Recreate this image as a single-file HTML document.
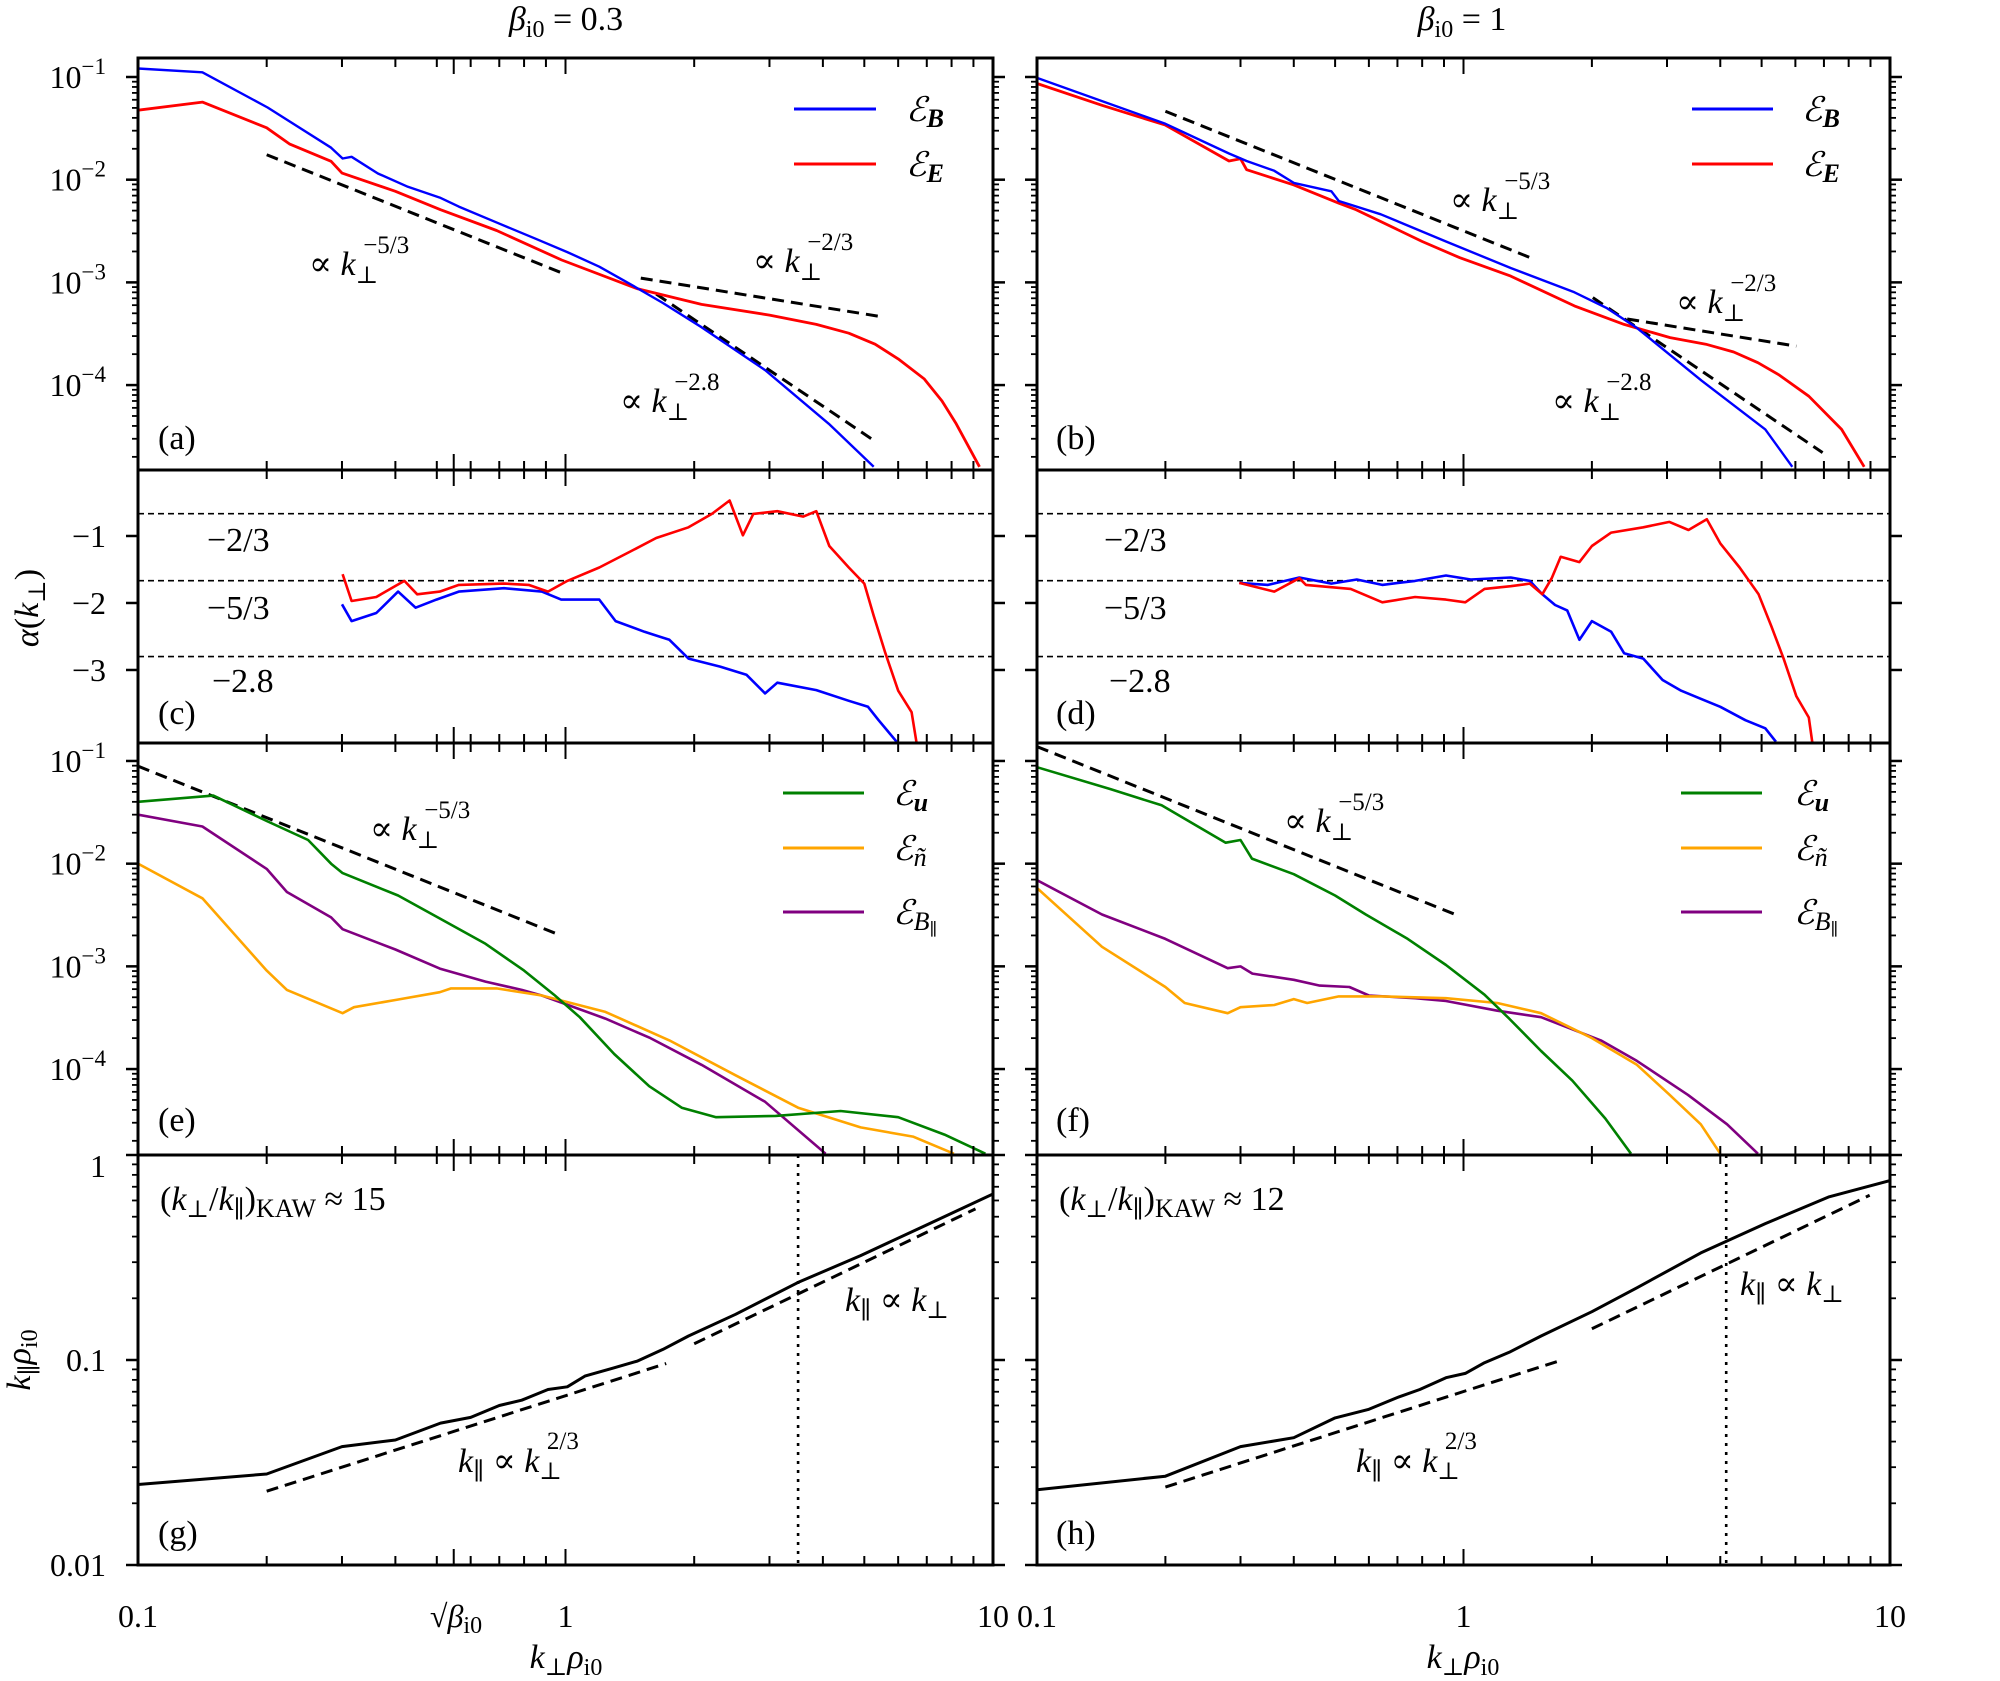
<!DOCTYPE html>
<html><head><meta charset="utf-8">
<style>
html,body{margin:0;padding:0;background:#fff;}
svg{display:block;font-family:"Liberation Serif","DejaVu Serif",serif;}
.t{font-size:32px;fill:#000;}
.an{font-size:34px;fill:#000;}
.it{font-style:italic;}
</style></head>
<body>
<svg id="fig" xmlns="http://www.w3.org/2000/svg" width="2000" height="1681" viewBox="0 0 2000 1681">
<rect x="0" y="0" width="2000" height="1681" fill="#fff"/>
<text class="an" x="566" y="30" text-anchor="middle" font-size="36"><tspan class="it">β</tspan><tspan font-size="24" dy="7">i0</tspan><tspan dy="-7"> = 0.3</tspan></text>
<text class="an" x="1462" y="30" text-anchor="middle" font-size="36"><tspan class="it">β</tspan><tspan font-size="24" dy="7">i0</tspan><tspan dy="-7"> = 1</tspan></text>
<g id="layer"></g>
<g class="an">
<text x="309" y="275">∝ <tspan class="it">k</tspan><tspan font-size="24" dy="8">⊥</tspan><tspan font-size="25" dx="-15" dy="-30">−5/3</tspan></text>
<text x="753" y="272">∝ <tspan class="it">k</tspan><tspan font-size="24" dy="8">⊥</tspan><tspan font-size="25" dx="-15" dy="-30">−2/3</tspan></text>
<text x="620" y="412">∝ <tspan class="it">k</tspan><tspan font-size="24" dy="8">⊥</tspan><tspan font-size="25" dx="-15" dy="-30">−2.8</tspan></text>
<text x="1450" y="211">∝ <tspan class="it">k</tspan><tspan font-size="24" dy="8">⊥</tspan><tspan font-size="25" dx="-15" dy="-30">−5/3</tspan></text>
<text x="1676" y="313">∝ <tspan class="it">k</tspan><tspan font-size="24" dy="8">⊥</tspan><tspan font-size="25" dx="-15" dy="-30">−2/3</tspan></text>
<text x="1552" y="412">∝ <tspan class="it">k</tspan><tspan font-size="24" dy="8">⊥</tspan><tspan font-size="25" dx="-15" dy="-30">−2.8</tspan></text>
<text x="370" y="840">∝ <tspan class="it">k</tspan><tspan font-size="24" dy="8">⊥</tspan><tspan font-size="25" dx="-15" dy="-30">−5/3</tspan></text>
<text x="1284" y="832">∝ <tspan class="it">k</tspan><tspan font-size="24" dy="8">⊥</tspan><tspan font-size="25" dx="-15" dy="-30">−5/3</tspan></text>
<text x="207" y="551">−2/3</text><text x="207" y="619">−5/3</text><text x="212" y="692">−2.8</text>
<text x="1104" y="551">−2/3</text><text x="1104" y="619">−5/3</text><text x="1109" y="692">−2.8</text>
<text x="158" y="449">(a)</text><text x="1056" y="449">(b)</text>
<text x="158" y="724">(c)</text><text x="1056" y="724">(d)</text>
<text x="158" y="1131">(e)</text><text x="1056" y="1131">(f)</text>
<text x="158" y="1544">(g)</text><text x="1056" y="1544">(h)</text>
<text x="160" y="1210">(<tspan class="it">k</tspan><tspan font-size="24" dy="7">⊥</tspan><tspan dy="-7">/</tspan><tspan class="it">k</tspan><tspan font-size="24" dy="7">∥</tspan><tspan dy="-7">)</tspan><tspan font-size="26" dy="7">KAW</tspan><tspan dy="-7"> ≈ 15</tspan></text>
<text x="1059" y="1210">(<tspan class="it">k</tspan><tspan font-size="24" dy="7">⊥</tspan><tspan dy="-7">/</tspan><tspan class="it">k</tspan><tspan font-size="24" dy="7">∥</tspan><tspan dy="-7">)</tspan><tspan font-size="26" dy="7">KAW</tspan><tspan dy="-7"> ≈ 12</tspan></text>
<text x="845" y="1311"><tspan class="it">k</tspan><tspan font-size="24" dy="7">∥</tspan><tspan dy="-7"> ∝ </tspan><tspan class="it">k</tspan><tspan font-size="24" dy="7">⊥</tspan></text>
<text x="1740" y="1295"><tspan class="it">k</tspan><tspan font-size="24" dy="7">∥</tspan><tspan dy="-7"> ∝ </tspan><tspan class="it">k</tspan><tspan font-size="24" dy="7">⊥</tspan></text>
<text x="458" y="1472"><tspan class="it">k</tspan><tspan font-size="24" dy="7">∥</tspan><tspan dy="-7"> ∝ </tspan><tspan class="it">k</tspan><tspan font-size="24" dy="7">⊥</tspan><tspan font-size="25" dx="-15" dy="-30">2/3</tspan></text>
<text x="1356" y="1472"><tspan class="it">k</tspan><tspan font-size="24" dy="7">∥</tspan><tspan dy="-7"> ∝ </tspan><tspan class="it">k</tspan><tspan font-size="24" dy="7">⊥</tspan><tspan font-size="25" dx="-15" dy="-30">2/3</tspan></text>
</g>
<g>
<line x1="794" y1="109" x2="876" y2="109" stroke="#00f" stroke-width="3"/>
<line x1="794" y1="164" x2="876" y2="164" stroke="#f00" stroke-width="3"/>
<text class="an it" x="906" y="121" font-size="38">ℰ<tspan font-size="26" font-weight="bold" dy="6">B</tspan></text>
<text class="an it" x="906" y="176" font-size="38">ℰ<tspan font-size="26" font-weight="bold" dy="6">E</tspan></text>
</g>
<g>
<line x1="1692" y1="109" x2="1773" y2="109" stroke="#00f" stroke-width="3"/>
<line x1="1692" y1="164" x2="1773" y2="164" stroke="#f00" stroke-width="3"/>
<text class="an it" x="1802" y="121" font-size="38">ℰ<tspan font-size="26" font-weight="bold" dy="6">B</tspan></text>
<text class="an it" x="1802" y="176" font-size="38">ℰ<tspan font-size="26" font-weight="bold" dy="6">E</tspan></text>
</g>
<g>
<line x1="783" y1="793" x2="864" y2="793" stroke="#008000" stroke-width="3"/>
<line x1="783" y1="848" x2="864" y2="848" stroke="#ffa500" stroke-width="3"/>
<line x1="783" y1="912" x2="864" y2="912" stroke="#800080" stroke-width="3"/>
<text class="an it" x="893" y="805" font-size="38">ℰ<tspan font-size="26" font-weight="bold" dy="6">u</tspan></text>
<text class="an it" x="893" y="860" font-size="38">ℰ<tspan font-size="26" dy="6">ñ</tspan></text>
<text class="an it" x="893" y="924" font-size="38">ℰ<tspan font-size="26" dy="6">B</tspan><tspan font-size="17" dy="5">∥</tspan></text>
</g>
<g>
<line x1="1681" y1="793" x2="1762" y2="793" stroke="#008000" stroke-width="3"/>
<line x1="1681" y1="848" x2="1762" y2="848" stroke="#ffa500" stroke-width="3"/>
<line x1="1681" y1="912" x2="1762" y2="912" stroke="#800080" stroke-width="3"/>
<text class="an it" x="1794" y="805" font-size="38">ℰ<tspan font-size="26" font-weight="bold" dy="6">u</tspan></text>
<text class="an it" x="1794" y="860" font-size="38">ℰ<tspan font-size="26" dy="6">ñ</tspan></text>
<text class="an it" x="1794" y="924" font-size="38">ℰ<tspan font-size="26" dy="6">B</tspan><tspan font-size="17" dy="5">∥</tspan></text>
</g>
<text class="an" transform="translate(38,608) rotate(-90)" text-anchor="middle" font-size="36"><tspan class="it">α</tspan>(<tspan class="it">k</tspan><tspan font-size="24" dy="7">⊥</tspan><tspan dy="-7">)</tspan></text>
<text class="an" transform="translate(30,1360) rotate(-90)" text-anchor="middle" font-size="36"><tspan class="it">k</tspan><tspan font-size="24" dy="7">∥</tspan><tspan class="it" dy="-7">ρ</tspan><tspan font-size="24" dy="7">i0</tspan></text>
<text class="an" x="566" y="1668" text-anchor="middle" font-size="36"><tspan class="it">k</tspan><tspan font-size="24" dy="7">⊥</tspan><tspan class="it" dy="-7">ρ</tspan><tspan font-size="24" dy="7">i0</tspan></text>
<text class="an" x="1463" y="1668" text-anchor="middle" font-size="36"><tspan class="it">k</tspan><tspan font-size="24" dy="7">⊥</tspan><tspan class="it" dy="-7">ρ</tspan><tspan font-size="24" dy="7">i0</tspan></text>
<text class="t" x="456" y="1627" text-anchor="middle">√<tspan class="it">β</tspan><tspan font-size="24" dy="6">i0</tspan></text>
</svg>
<script>
// ---------- data (k⊥ρi0, values) ----------
const aK_B=[0.1,0.1415,0.201,0.283,0.301,0.316,0.364,0.428,0.508,0.563,0.692,0.851,1.01,1.2,1.42,1.69,2.08,2.93,4.13,5.26];
const aV_B=[0.121,0.111,0.0505,0.0205,0.0161,0.0167,0.0115,0.00853,0.0067,0.00547,0.00381,0.00266,0.00197,0.00142,0.000957,0.00063,0.000366,0.00014,4.2e-5,1.6e-5];
const aK_E=[0.1,0.1415,0.2,0.226,0.283,0.3,0.4,0.51,0.69,0.98,1.47,2.08,3.0,3.86,4.6,5.3,6.0,6.9,7.6,8.2,9.3];
const aV_E=[0.0475,0.057,0.032,0.0223,0.0151,0.0116,0.0077,0.0051,0.0032,0.00165,8.7e-4,6.1e-4,4.8e-4,3.9e-4,3.2e-4,2.5e-4,1.8e-4,1.15e-4,7e-5,4.2e-5,1.6e-5];
const bK_B=[0.1,0.2,0.282,0.31,0.36,0.4,0.49,0.51,0.64,0.91,1.29,1.82,2.17,2.55,3.62,5.1,5.9];
const bV_B=[0.098,0.035,0.018,0.0152,0.0122,0.0093,0.0077,0.0062,0.0046,0.0025,0.00138,8e-4,5.6e-4,3.6e-4,1.1e-4,3.7e-5,1.6e-5];
const bK_E=[0.1,0.142,0.2,0.282,0.3,0.31,0.4,0.51,0.56,0.8,0.98,1.29,1.82,2.38,3.05,3.7,4.3,4.9,5.5,6.45,7.7,8.7];
const bV_E=[0.0865,0.053,0.034,0.0152,0.016,0.0125,0.0089,0.0059,0.0051,0.0025,0.00174,0.00115,5.9e-4,3.9e-4,2.9e-4,2.5e-4,2.1e-4,1.65e-4,1.25e-4,7.8e-5,3.7e-5,1.6e-5];
const cK_B=[0.3,0.316,0.361,0.406,0.446,0.499,0.563,0.718,0.88,0.977,1.2,1.31,1.53,1.75,1.94,2.3,2.65,2.93,3.13,3.86,4.6,5.1,5.4,5.95];
const cV_B=[-2.02,-2.27,-2.15,-1.83,-2.07,-1.95,-1.83,-1.78,-1.83,-1.95,-1.95,-2.27,-2.43,-2.55,-2.83,-2.95,-3.07,-3.35,-3.19,-3.3,-3.46,-3.55,-3.75,-4.07];
const cK_E=[0.301,0.316,0.361,0.399,0.42,0.45,0.508,0.563,0.718,0.82,0.91,1.01,1.2,1.42,1.63,1.94,2.2,2.42,2.6,2.75,3.13,3.6,3.86,4.14,4.6,5.0,5.26,5.6,6.0,6.45,6.63];
const cV_E=[-1.57,-1.97,-1.91,-1.75,-1.67,-1.87,-1.83,-1.73,-1.71,-1.73,-1.83,-1.67,-1.47,-1.23,-1.03,-0.87,-0.67,-0.47,-0.99,-0.67,-0.63,-0.71,-0.63,-1.15,-1.47,-1.71,-2.19,-2.75,-3.31,-3.63,-4.1];
const dK_B=[0.298,0.348,0.412,0.49,0.562,0.645,0.77,0.91,1.04,1.29,1.43,1.53,1.64,1.75,1.87,2.0,2.22,2.38,2.64,2.93,3.24,3.6,4.0,4.58,5.1,5.4];
const dV_B=[-1.7,-1.73,-1.62,-1.71,-1.65,-1.73,-1.67,-1.59,-1.65,-1.62,-1.67,-1.87,-2.03,-2.11,-2.55,-2.27,-2.43,-2.75,-2.83,-3.15,-3.31,-3.43,-3.55,-3.75,-3.87,-4.07];
const dK_E=[0.298,0.36,0.412,0.427,0.544,0.645,0.77,0.91,1.01,1.12,1.29,1.43,1.53,1.61,1.69,1.87,2.0,2.22,2.64,3.04,3.37,3.72,4.0,4.44,4.92,5.27,5.63,6.03,6.45,6.57];
const dV_E=[-1.7,-1.83,-1.63,-1.73,-1.79,-1.99,-1.91,-1.95,-1.99,-1.79,-1.75,-1.71,-1.87,-1.63,-1.31,-1.39,-1.15,-0.95,-0.87,-0.79,-0.91,-0.75,-1.11,-1.47,-1.87,-2.35,-2.83,-3.39,-3.71,-4.07];
const eK_U=[0.1,0.15,0.2,0.25,0.283,0.301,0.406,0.51,0.65,0.8,0.94,1.08,1.3,1.57,1.87,2.25,3.1,4.4,6.0,7.7,9.6];
const eV_U=[0.04,0.046,0.026,0.017,0.01,0.0081,0.0049,0.0029,0.00166,9.1e-4,5.3e-4,3.2e-4,1.4e-4,6.8e-5,4.2e-5,3.4e-5,3.5e-5,3.9e-5,3.4e-5,2.3e-5,1.5e-5];
const eK_N=[0.1,0.1415,0.2,0.223,0.301,0.32,0.4,0.508,0.54,0.69,0.88,1.24,1.75,2.5,3.5,4.9,6.5,8.1];
const eV_N=[0.01,0.0046,9.1e-4,5.9e-4,3.5e-4,4.0e-4,4.7e-4,5.6e-4,6.1e-4,6.1e-4,5.2e-4,3.6e-4,1.9e-4,8.7e-5,4.2e-5,2.7e-5,2.2e-5,1.5e-5];
const eK_P=[0.1,0.1415,0.2,0.223,0.283,0.301,0.4,0.508,0.65,0.79,0.88,1.24,1.58,2.08,2.93,4.06];
const eV_P=[0.03,0.023,0.0089,0.0053,0.003,0.0023,0.00146,9.5e-4,7.1e-4,5.9e-4,5.2e-4,3.1e-4,2.0e-4,1.1e-4,4.8e-5,1.5e-5];
const fK_U=[0.1,0.149,0.196,0.277,0.3,0.319,0.4,0.5,0.59,0.74,0.91,1.12,1.28,1.52,1.8,2.15,2.47];
const fV_U=[0.087,0.053,0.037,0.016,0.017,0.0112,0.0079,0.0049,0.0032,0.00185,0.00103,5.3e-4,3.1e-4,1.5e-4,7.7e-5,3.3e-5,1.5e-5];
const fK_N=[0.1,0.142,0.2,0.222,0.28,0.3,0.36,0.4,0.43,0.51,0.645,0.91,1.2,1.52,2.0,2.55,3.03,3.6,4.0];
const fV_N=[0.0058,0.00155,6.3e-4,4.4e-4,3.5e-4,4.0e-4,4.2e-4,4.8e-4,4.4e-4,5.1e-4,5.1e-4,4.9e-4,4.4e-4,3.5e-4,2.0e-4,1.1e-4,5.7e-5,2.9e-5,1.5e-5];
const fK_P=[0.1,0.142,0.2,0.28,0.3,0.32,0.4,0.46,0.54,0.6,0.77,0.91,1.2,1.52,2.1,2.55,3.36,4.15,4.9];
const fV_P=[0.0069,0.0032,0.00185,9.6e-4,0.001,8.5e-4,7.4e-4,6.5e-4,6.3e-4,5.2e-4,4.9e-4,4.6e-4,3.7e-4,3.2e-4,1.9e-4,1.2e-4,5.6e-5,2.9e-5,1.5e-5];
const gK=[0.1,0.2,0.3,0.4,0.51,0.6,0.7,0.79,0.91,1.01,1.11,1.29,1.47,1.69,1.94,2.5,3.5,4.9,6.9,10];
const gV=[0.0247,0.0278,0.0378,0.0407,0.0492,0.0525,0.06,0.0637,0.0718,0.074,0.0835,0.0912,0.0987,0.1127,0.131,0.167,0.239,0.323,0.45,0.645];
const hK=[0.1,0.2,0.3,0.4,0.5,0.6,0.7,0.79,0.91,1.01,1.12,1.28,1.52,2.0,2.55,3.6,5.1,7.2,10];
const hV=[0.0233,0.0271,0.0378,0.0418,0.0522,0.0575,0.0656,0.0718,0.082,0.086,0.097,0.109,0.131,0.172,0.225,0.333,0.463,0.625,0.75];
// reference power laws: [kStart, kEnd, valueAtStart, exponent]
const fitA=[[0.2,1.0,0.0175,-5/3],[1.5,5.45,1.1e-3,-2/3],[1.63,5.26,7.7e-4,-2.8]];
const fitB=[[0.2,1.47,0.0464,-5/3],[2.42,6.03,4.4e-4,-2/3],[2.01,6.95,7.1e-4,-2.8]];
const fitE=[[0.1,0.953,0.089,-5/3]];
const fitF=[[0.1,0.95,0.138,-5/3]];
const fitG=[[0.2,1.72,0.0229,2/3],[2.0,9.1,0.12,1]];
const fitH=[[0.2,1.69,0.024,2/3],[2.0,8.96,0.142,1]];
const alphaRefs=[-2/3,-5/3,-2.8];
const alphaTicks=[-1,-2,-3];
const kawG=3.5, kawH=4.13, sqrtBetaLeft=Math.sqrt(0.3);

// ---------- layout ----------
const NS='http://www.w3.org/2000/svg';
const layer=document.getElementById('layer');
const cols=[{x0:138,x1:993},{x0:1037,x1:1890}];
const rows=[{y0:58,y1:470,log:true,top:-0.815,bot:-4.827},{y0:470,y1:743,log:false,top:-0.015,bot:-4.09},{y0:743,y1:1155,log:true,top:-0.825,bot:-4.837},{y0:1155,y1:1565,log:true,top:0,bot:-2}];
function P(c,r,name){return {x0:cols[c].x0,x1:cols[c].x1,y0:rows[r].y0,y1:rows[r].y1,log:rows[r].log,top:rows[r].top,bot:rows[r].bot,name:name,c:c,r:r};}
function xs(p,k){return p.x0+(Math.log10(k)+1)/2*(p.x1-p.x0);}
function ys(p,v){const t=p.log?Math.log10(v):v;return p.y0+(p.top-t)/(p.top-p.bot)*(p.y1-p.y0);}
function mk(tag,parent){const e=document.createElementNS(NS,tag);(parent||layer).appendChild(e);return e;}
let clipId=0;
function panelGroup(p){
  const cp=mk('clipPath');cp.setAttribute('id','cp'+clipId);
  const r=mk('rect',cp);r.setAttribute('x',p.x0);r.setAttribute('y',p.y0);r.setAttribute('width',p.x1-p.x0);r.setAttribute('height',p.y1-p.y0);
  const g=mk('g');g.setAttribute('clip-path','url(#cp'+clipId+')');clipId++;
  
  
  return g;
}
function series(p,g,ks,vs,color,name,w){
  let d='';ks.forEach((k,i)=>{d+=(i?'L':'M')+xs(p,k).toFixed(1)+','+ys(p,vs[i]).toFixed(1);});
  const path=mk('path',g);path.setAttribute('d',d);path.setAttribute('fill','none');
  path.setAttribute('stroke',color);path.setAttribute('stroke-width',w||2.6);path.setAttribute('stroke-linejoin','round');
  
  
}
function fits(p,g,arr,name){
  arr.forEach((f,i)=>{
    const ln=mk('line',g);
    ln.setAttribute('x1',xs(p,f[0]));ln.setAttribute('y1',ys(p,f[2]));
    ln.setAttribute('x2',xs(p,f[1]));ln.setAttribute('y2',ys(p,f[2]*Math.pow(f[1]/f[0],f[3])));
    ln.setAttribute('stroke','#000');ln.setAttribute('stroke-width',3);ln.setAttribute('stroke-dasharray','12,7');
    
    
  });
}
function frame(p){
  const xt=[];for(let d=-1;d<=0;d++)for(let m=1;m<=9;m++)xt.push([m*Math.pow(10,d),m===1]);xt.push([10,true]);
  if(p.c===0)xt.push([sqrtBetaLeft,true]);
  xt.forEach(t=>{const x=xs(p,t[0]);const L=t[1]?16:9;
    [[p.y0,p.y0+L],[p.y1,p.y1-L]].forEach(s=>{const l=mk('line');l.setAttribute('x1',x);l.setAttribute('x2',x);l.setAttribute('y1',s[0]);l.setAttribute('y2',s[1]);l.setAttribute('stroke','#000');l.setAttribute('stroke-width',2);});});
  const yt=[];
  if(p.log){for(let d=Math.floor(p.bot);d<=Math.ceil(p.top);d++)for(let m=1;m<=9;m++){const v=m*Math.pow(10,d);const lv=Math.log10(v);if(lv<=p.top+1e-6&&lv>=p.bot-1e-6)yt.push([v,m===1]);}}
  else{alphaTicks.forEach(v=>yt.push([v,true]));}
  yt.forEach(t=>{const y=ys(p,t[0]);const L=t[1]?12:6;
    [[p.x0,p.x0-L],[p.x1,p.x1+L]].forEach(s=>{const l=mk('line');l.setAttribute('x1',s[0]);l.setAttribute('x2',s[1]);l.setAttribute('y1',y);l.setAttribute('y2',y);l.setAttribute('stroke','#000');l.setAttribute('stroke-width',t[1]?2.5:1.8);});
    if(p.c===0&&t[1]){
      const tx=mk('text');tx.setAttribute('class','t');tx.setAttribute('text-anchor','end');tx.setAttribute('x',106);
      let yy=y+11;
      if(p.r===0||p.r===2){const e=Math.round(Math.log10(t[0]));tx.innerHTML='10<tspan font-size="23" dy="-14">−'+(-e)+'</tspan>';}
      else if(p.r===1){tx.textContent='−'+(-t[0]);}
      else{const e=Math.round(Math.log10(t[0]));tx.textContent=e===0?'1':(e===-1?'0.1':'0.01');if(e===0)yy=y+22;}
      tx.setAttribute('y',yy);
      
      
    }
  });
  const r=mk('rect');r.setAttribute('x',p.x0);r.setAttribute('y',p.y0);r.setAttribute('width',p.x1-p.x0);r.setAttribute('height',p.y1-p.y0);
  r.setAttribute('fill','none');r.setAttribute('stroke','#000');r.setAttribute('stroke-width',3);
  
  
}
[[0,aK_B,aV_B,aK_E,aV_E,fitA,'panel-a'],[1,bK_B,bV_B,bK_E,bV_E,fitB,'panel-b']].forEach(s=>{
  const p=P(s[0],0,s[6]);const g=panelGroup(p);
  fits(p,g,s[5],s[6]+'-powerlaw');
  series(p,g,s[3],s[4],'#f00',s[6]+'-series-eE',2.8);
  series(p,g,s[1],s[2],'#00f',s[6]+'-series-eB',2.4);
  frame(p);
});
[[0,cK_B,cV_B,cK_E,cV_E,'panel-c'],[1,dK_B,dV_B,dK_E,dV_E,'panel-d']].forEach(s=>{
  const p=P(s[0],1,s[5]);const g=panelGroup(p);
  alphaRefs.forEach(a=>{const l=mk('line',g);l.setAttribute('x1',p.x0);l.setAttribute('x2',p.x1);l.setAttribute('y1',ys(p,a));l.setAttribute('y2',ys(p,a));l.setAttribute('stroke','#000');l.setAttribute('stroke-width',1.6);l.setAttribute('stroke-dasharray','6,4');
    
    });
  series(p,g,s[1],s[2],'#00f',s[5]+'-alpha-B',2.6);
  series(p,g,s[3],s[4],'#f00',s[5]+'-alpha-E',2.6);
  frame(p);
});
[[0,eK_U,eV_U,eK_N,eV_N,eK_P,eV_P,fitE,'panel-e'],[1,fK_U,fV_U,fK_N,fV_N,fK_P,fV_P,fitF,'panel-f']].forEach(s=>{
  const p=P(s[0],2,s[8]);const g=panelGroup(p);
  fits(p,g,s[7],s[8]+'-powerlaw');
  series(p,g,s[5],s[6],'#800080',s[8]+'-series-eBpar',2.6);
  series(p,g,s[3],s[4],'#ffa500',s[8]+'-series-en',2.6);
  series(p,g,s[1],s[2],'#008000',s[8]+'-series-eu',2.6);
  frame(p);
});
[[0,gK,gV,fitG,kawG,'panel-g'],[1,hK,hV,fitH,kawH,'panel-h']].forEach(s=>{
  const p=P(s[0],3,s[5]);const g=panelGroup(p);
  const v=mk('line',g);v.setAttribute('x1',xs(p,s[4]));v.setAttribute('x2',xs(p,s[4]));v.setAttribute('y1',p.y0);v.setAttribute('y2',p.y1);v.setAttribute('stroke','#000');v.setAttribute('stroke-width',2.6);v.setAttribute('stroke-dasharray','3,6');
  
  
  fits(p,g,s[3],s[5]+'-powerlaw');
  series(p,g,s[1],s[2],'#000',s[5]+'-series-kpar',3);
  frame(p);
  [[0.1,'0.1'],[1,'1'],[10,'10']].forEach(t=>{const tx=mk('text');tx.setAttribute('class','t');tx.setAttribute('text-anchor','middle');tx.setAttribute('x',xs(p,t[0]));tx.setAttribute('y',1627);tx.textContent=t[1];
    
    });
});
</script>
</body></html>
